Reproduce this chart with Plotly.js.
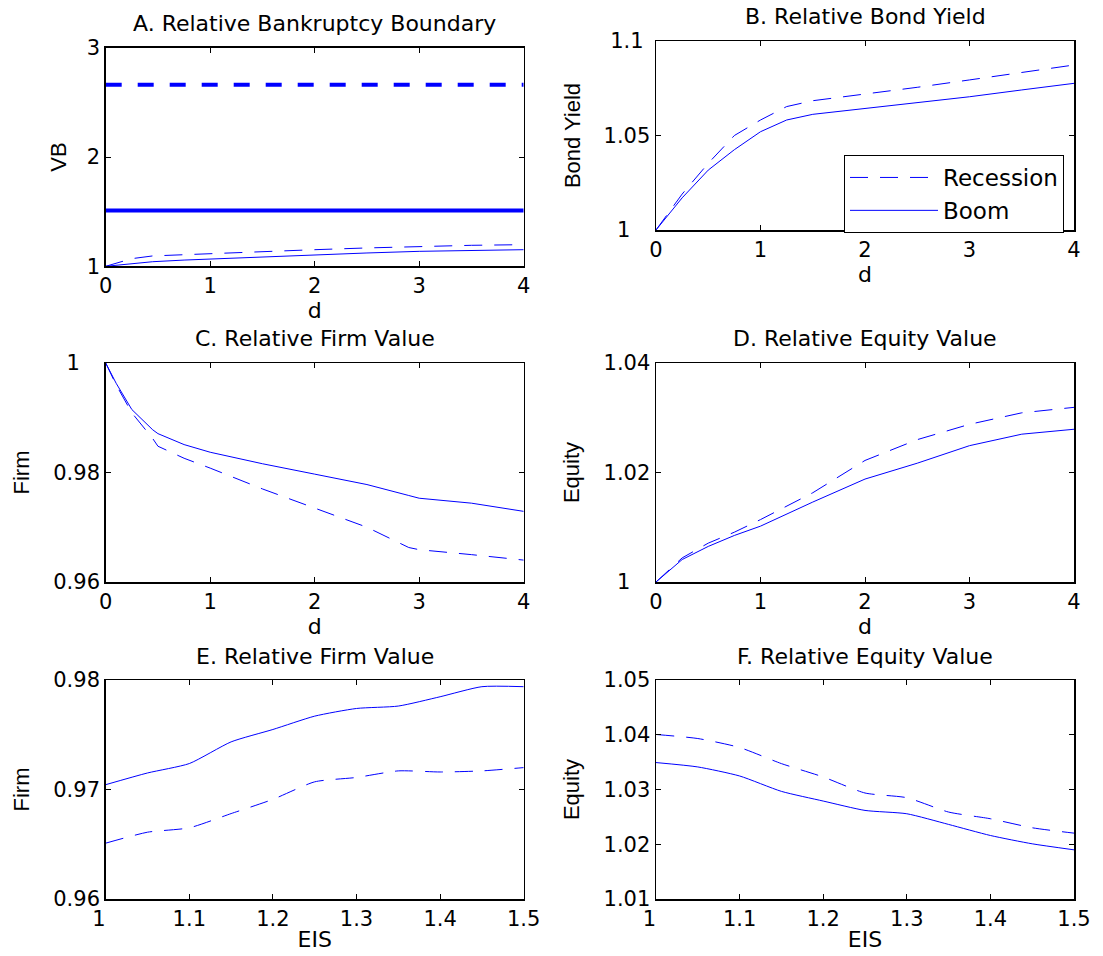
<!DOCTYPE html>
<html>
<head>
<meta charset="utf-8">
<script src="https://cdn.plot.ly/plotly-3.0.1.min.js"></script>
<style>html,body{margin:0;padding:0;background:#fff}#chart{width:1103px;height:956px}</style>
</head>
<body>
<div id="chart"></div>
<script>
// ---------- data ----------
// Panel A: Relative Bankruptcy Boundary vs d
const dA = [0, 0.1, 0.25, 0.45, 0.75, 1, 1.5, 2, 2.5, 3, 3.5, 4];
const vbRecessionHigh = [2.66, 2.66, 2.66, 2.66, 2.66, 2.66, 2.66, 2.66, 2.66, 2.66, 2.66, 2.66];
const vbBoomHigh      = [1.51, 1.51, 1.51, 1.51, 1.51, 1.51, 1.51, 1.51, 1.51, 1.51, 1.51, 1.51];
const vbRecession = [1.0, 1.03, 1.07, 1.095, 1.107, 1.116, 1.135, 1.152, 1.168, 1.183, 1.192, 1.198];
const vbBoom      = [1.0, 1.01, 1.025, 1.042, 1.057, 1.067, 1.087, 1.106, 1.122, 1.137, 1.147, 1.152];

// Panel B: Relative Bond Yield vs d
const dB = [0, 0.25, 0.5, 0.75, 1, 1.25, 1.5, 2, 2.5, 3, 3.5, 4];
const bondRecession = [1.0, 1.019, 1.0353, 1.050, 1.0582, 1.0653, 1.0684, 1.0718, 1.0755, 1.0794, 1.0832, 1.0873];
const bondBoom      = [1.0, 1.017, 1.0317, 1.0425, 1.052, 1.0582, 1.0612, 1.0644, 1.0674, 1.0705, 1.0741, 1.0776];

// Panel C: Relative Firm Value vs d
const dC = [0, 0.1, 0.25, 0.45, 0.5, 0.75, 1, 1.5, 2, 2.5, 2.9, 3, 3.5, 4];
const firmRecessionD = [1.0, 0.996, 0.9909, 0.9862, 0.9848, 0.9826, 0.9808, 0.9770, 0.9735, 0.9700, 0.9663, 0.9659, 0.9650, 0.9640];
const firmBoomD      = [1.0, 0.9963, 0.9915, 0.9878, 0.9871, 0.9851, 0.9837, 0.9816, 0.9797, 0.9778, 0.9758, 0.9753, 0.9744, 0.9729];

// Panel D: Relative Equity Value vs d
const dD = [0, 0.25, 0.5, 0.75, 1, 1.5, 2, 2.5, 3, 3.5, 4];
const equityRecessionD = [1.0, 1.0044, 1.0071, 1.0091, 1.0114, 1.0163, 1.0222, 1.0260, 1.0288, 1.0309, 1.0319];
const equityBoomD      = [1.0, 1.0041, 1.0065, 1.0085, 1.0102, 1.0146, 1.0188, 1.0217, 1.0249, 1.0270, 1.0279];

// Panels E, F: vs EIS
const eis = [1.0, 1.05, 1.1, 1.15, 1.2, 1.25, 1.3, 1.35, 1.4, 1.45, 1.5];
const firmBoomE      = [0.97044, 0.97151, 0.97237, 0.97435, 0.97548, 0.97670, 0.97740, 0.97762, 0.97847, 0.97939, 0.97939];
const firmRecessionE = [0.96510, 0.96610, 0.96650, 0.96780, 0.96910, 0.97070, 0.97110, 0.97170, 0.97160, 0.97170, 0.97200];
const equityBoomF      = [1.03492, 1.03412, 1.03247, 1.02966, 1.02789, 1.02618, 1.02557, 1.02362, 1.02160, 1.02008, 1.01898];
const equityRecessionF = [1.04005, 1.03931, 1.03767, 1.03473, 1.03229, 1.02936, 1.02850, 1.02588, 1.02466, 1.02301, 1.02203];

// ticks
const dTicks = [0, 1, 2, 3, 4];
const dTickText = ['0', '1', '2', '3', '4'];
const eisTicks = [1, 1.1, 1.2, 1.3, 1.4, 1.5];
const eisTickText = ['1', '1.1', '1.2', '1.3', '1.4', '1.5'];
const vbTicks = [1, 2, 3];           const vbTickText = ['1', '2', '3'];
const bondTicks = [1, 1.05, 1.1];    const bondTickText = ['1', '1.05', '1.1'];
const firmDTicks = [0.96, 0.98, 1];  const firmDTickText = ['0.96', '0.98', '1'];
const eqDTicks = [1, 1.02, 1.04];    const eqDTickText = ['1', '1.02', '1.04'];
const firmETicks = [0.96, 0.97, 0.98]; const firmETickText = ['0.96', '0.97', '0.98'];
const eqFTicks = [1.01, 1.02, 1.03, 1.04, 1.05]; const eqFTickText = ['1.01', '1.02', '1.03', '1.04', '1.05'];

const panelTitles = ['A. Relative Bankruptcy Boundary', 'B. Relative Bond Yield',
  'C. Relative Firm Value', 'D. Relative Equity Value',
  'E. Relative Firm Value', 'F. Relative Equity Value'];
const seriesNames = ['Recession', 'Boom'];

// ---------- drawing ----------
const HFONT = 'DejaVu Sans, Verdana, sans-serif';
const VFONT = 'Liberation Sans, Arial, Helvetica, sans-serif';
const BLUE = '#0000ff';
const W = 1103, H = 956;

// pad labels to equal character count (like a MATLAB char-matrix tick label)
function pad(labels) {
  const n = Math.max.apply(null, labels.map(s => s.length));
  return labels.map(s => s + '\u00A0'.repeat(n - s.length));
}

function px2x(p) { return p / W; }
function px2y(p) { return 1 - p / H; }

const colL = [px2x(105.7), px2x(523.7)];
const colR = [px2x(656), px2x(1074)];
const rowA = [px2y(266.3), px2y(47.7)];
const rowB = [px2y(230), px2y(41)];
const rowC = [px2y(582), px2y(363)];
const rowE = [px2y(899), px2y(680)];

function line(x, y, dash, ax, name, legend, width, dashPattern) {
  return {x: x, y: y, type: 'scatter', mode: 'lines', name: name,
    xaxis: 'x' + ax, yaxis: 'y' + ax, showlegend: !!legend,
    line: {color: BLUE, width: width || 1, dash: dash ? (dashPattern || '18px,12px') : 'solid'}};
}

const traces = [
  line(dA, vbRecessionHigh, true, '', seriesNames[0], false, 4, '16px,16px'),
  line(dA, vbBoomHigh, false, '', seriesNames[1], false, 4),
  line(dA, vbRecession, true, '', seriesNames[0]),
  line(dA, vbBoom, false, '', seriesNames[1]),
  line(dB, bondRecession, true, '2', seriesNames[0], true),
  line(dB, bondBoom, false, '2', seriesNames[1], true),
  line(dC, firmRecessionD, true, '3', seriesNames[0]),
  line(dC, firmBoomD, false, '3', seriesNames[1]),
  line(dD, equityRecessionD, true, '4', seriesNames[0]),
  line(dD, equityBoomD, false, '4', seriesNames[1]),
  line(eis, firmRecessionE, true, '5', seriesNames[0]),
  line(eis, firmBoomE, false, '5', seriesNames[1]),
  line(eis, equityRecessionF, true, '6', seriesNames[0]),
  line(eis, equityBoomF, false, '6', seriesNames[1])
];
traces.slice(10).forEach(t => { t.line.shape = 'spline'; t.line.smoothing = 0.6; });

const common = {ticks: 'inside', ticklen: 5, tickcolor: '#000', mirror: 'ticks', showline: true,
  linecolor: '#000', linewidth: 1.5, showgrid: false, zeroline: false,
  tickfont: {family: HFONT, size: 21, color: '#000'}};

function xax(domain, range, tv, tt, title, anchor) {
  return Object.assign({}, common, {domain: domain, range: range, tickvals: tv, ticktext: pad(tt), anchor: anchor,
    title: {text: title, font: {family: HFONT, size: 22, color: '#000'}, standoff: 2}});
}
function yax(domain, range, tv, tt, title, anchor, standoff) {
  return Object.assign({}, common, {domain: domain, range: range, tickvals: tv, ticktext: pad(tt), anchor: anchor,
    title: {text: title, font: {family: VFONT, size: 22, color: '#000'}, standoff: standoff}});
}

const layout = {
  width: W, height: H, margin: {l: 0, r: 0, t: 0, b: 0},
  paper_bgcolor: '#fff', plot_bgcolor: '#fff', hovermode: false,
  font: {family: HFONT, color: '#000'},
  xaxis:  xax(colL, [0, 4], dTicks, dTickText, 'd', 'y'),
  yaxis:  yax(rowA, [1, 3], vbTicks, vbTickText, 'VB', 'x', 14),
  xaxis2: xax(colR, [0, 4], dTicks, dTickText, 'd', 'y2'),
  yaxis2: yax(rowB, [1, 1.1], bondTicks, bondTickText, 'Bond Yield', 'x2', 17),
  xaxis3: xax(colL, [0, 4], dTicks, dTickText, 'd', 'y3'),
  yaxis3: yax(rowC, [0.96, 1], firmDTicks, firmDTickText, 'Firm', 'x3', 17),
  xaxis4: xax(colR, [0, 4], dTicks, dTickText, 'd', 'y4'),
  yaxis4: yax(rowC, [1, 1.04], eqDTicks, eqDTickText, 'Equity', 'x4', 18),
  xaxis5: xax(colL, [1, 1.5], eisTicks, eisTickText, 'EIS', 'y5'),
  yaxis5: yax(rowE, [0.96, 0.98], firmETicks, firmETickText, 'Firm', 'x5', 17),
  xaxis6: xax(colR, [1, 1.5], eisTicks, eisTickText, 'EIS', 'y6'),
  yaxis6: yax(rowE, [1.01, 1.05], eqFTicks, eqFTickText, 'Equity', 'x6', 18),
  showlegend: true,
  legend: {x: px2x(1064), xanchor: 'right', y: px2y(155), yanchor: 'top',
    bordercolor: '#000', borderwidth: 1, bgcolor: '#fff', itemwidth: 88,
    font: {family: HFONT, size: 23, color: '#000'}, tracegroupgap: 0},
  annotations: []
};

const titleSpots = [[colL, rowA], [colR, rowB], [colL, rowC], [colR, rowC], [colL, rowE], [colR, rowE]];
panelTitles.forEach((t, i) => {
  const cx = titleSpots[i][0], ry = titleSpots[i][1];
  layout.annotations.push({text: t, xref: 'paper', yref: 'paper', x: (cx[0] + cx[1]) / 2, y: ry[1],
    yshift: 24, xanchor: 'center', yanchor: 'middle', showarrow: false,
    font: {family: HFONT, size: 22, color: '#000'}});
});

Plotly.newPlot('chart', traces, layout, {staticPlot: true, displayModeBar: false});
</script>
</body>
</html>
